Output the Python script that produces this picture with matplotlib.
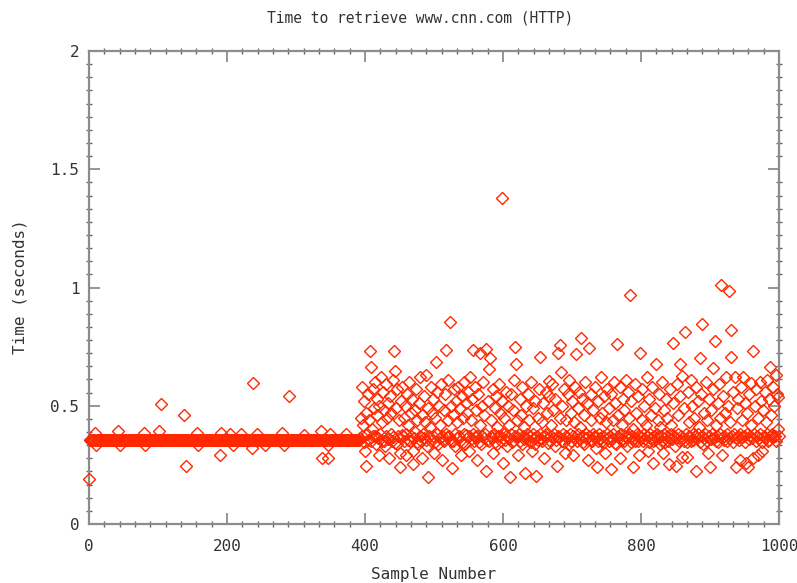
import numpy as np
import matplotlib
matplotlib.use("Agg")
import matplotlib.pyplot as plt
from matplotlib.ticker import AutoMinorLocator

# first 393 samples sit on a flat level, with a few stragglers
early_n = 393
early_level = 0.357
early_idx = [0, 8, 10, 42, 45, 79, 81, 102, 105, 138, 140, 156, 158, 190, 192,
             204, 209, 220, 236, 237, 243, 255, 280, 282, 290, 311, 336, 338,
             346, 347, 349, 373]
early_val = [0.19, 0.385, 0.335, 0.395, 0.335, 0.385, 0.335, 0.395, 0.507, 0.461,
             0.245, 0.385, 0.335, 0.292, 0.385, 0.38, 0.335, 0.38, 0.32, 0.595,
             0.38, 0.335, 0.385, 0.335, 0.541, 0.375, 0.394, 0.28, 0.28, 0.335,
             0.38, 0.38]

# samples 393..1000 (20 per row)
late_val = [
    0.362, 0.45, 0.37, 0.58, 0.42, 0.345, 0.52, 0.31, 0.47, 0.247, 0.38, 0.55, 0.355, 0.44, 0.73, 0.35, 0.665, 0.40, 0.57, 0.372,
    0.49, 0.37, 0.60, 0.34, 0.46, 0.53, 0.365, 0.29, 0.50, 0.38, 0.62, 0.35, 0.43, 0.56, 0.352, 0.48, 0.33, 0.59, 0.37, 0.45,
    0.358, 0.51, 0.28, 0.54, 0.38, 0.47, 0.35, 0.61, 0.368, 0.73, 0.647, 0.342, 0.49, 0.34, 0.57, 0.37, 0.44, 0.30, 0.242, 0.52,
    0.375, 0.58, 0.37, 0.45, 0.35, 0.50, 0.29, 0.38, 0.55, 0.355, 0.42, 0.60, 0.35, 0.47, 0.37, 0.53, 0.31, 0.252, 0.362, 0.48,
    0.39, 0.57, 0.348, 0.44, 0.34, 0.51, 0.37, 0.62, 0.35, 0.46, 0.28, 0.38, 0.54, 0.365, 0.43, 0.63, 0.357, 0.33, 0.20, 0.49,
    0.372, 0.41, 0.58, 0.35, 0.47, 0.37, 0.53, 0.30, 0.345, 0.45, 0.686, 0.38, 0.56, 0.34, 0.50, 0.362, 0.42, 0.59, 0.37, 0.27,
    0.355, 0.48, 0.35, 0.55, 0.38, 0.736, 0.368, 0.44, 0.61, 0.37, 0.853, 0.35, 0.50, 0.235, 0.352, 0.46, 0.57, 0.38, 0.33, 0.52,
    0.365, 0.43, 0.58, 0.37, 0.49, 0.35, 0.29, 0.54, 0.342, 0.45, 0.60, 0.38, 0.34, 0.51, 0.375, 0.47, 0.56, 0.37, 0.31, 0.62,
    0.358, 0.44, 0.53, 0.38, 0.736, 0.35, 0.58, 0.368, 0.48, 0.27, 0.37, 0.55, 0.345, 0.42, 0.722, 0.34, 0.50, 0.37, 0.60, 0.362,
    0.46, 0.38, 0.739, 0.225, 0.355, 0.52, 0.655, 0.35, 0.70, 0.37, 0.44, 0.365, 0.57, 0.30, 0.38, 0.49, 0.348, 0.54, 0.34, 0.41,
    0.37, 0.59, 0.372, 0.47, 0.35, 0.52, 1.378, 0.257, 0.38, 0.45, 0.355, 0.56, 0.37, 0.33, 0.50, 0.362, 0.42, 0.20, 0.38, 0.55,
    0.345, 0.48, 0.35, 0.61, 0.37, 0.75, 0.677, 0.368, 0.44, 0.29, 0.38, 0.53, 0.352, 0.46, 0.34, 0.58, 0.37, 0.41, 0.36, 0.217,
    0.50, 0.362, 0.38, 0.55, 0.35, 0.44, 0.37, 0.60, 0.345, 0.31, 0.49, 0.38, 0.365, 0.52, 0.34, 0.203, 0.37, 0.45, 0.355, 0.57,
    0.38, 0.708, 0.358, 0.43, 0.35, 0.51, 0.37, 0.28, 0.372, 0.56, 0.38, 0.47, 0.342, 0.54, 0.605, 0.35, 0.42, 0.37, 0.59, 0.362,
    0.48, 0.38, 0.33, 0.53, 0.355, 0.247, 0.37, 0.722, 0.368, 0.45, 0.757, 0.644, 0.35, 0.50, 0.38, 0.57, 0.345, 0.30, 0.44, 0.37,
    0.362, 0.55, 0.34, 0.61, 0.38, 0.47, 0.352, 0.52, 0.37, 0.29, 0.43, 0.365, 0.58, 0.719, 0.35, 0.49, 0.38, 0.56, 0.358, 0.41,
    0.788, 0.37, 0.53, 0.345, 0.46, 0.34, 0.60, 0.38, 0.362, 0.51, 0.27, 0.37, 0.743, 0.355, 0.44, 0.55, 0.35, 0.38, 0.48, 0.368,
    0.58, 0.37, 0.32, 0.242, 0.352, 0.52, 0.38, 0.45, 0.362, 0.62, 0.35, 0.47, 0.37, 0.54, 0.345, 0.30, 0.43, 0.38, 0.57, 0.365,
    0.49, 0.35, 0.37, 0.55, 0.231, 0.358, 0.44, 0.38, 0.60, 0.342, 0.51, 0.34, 0.76, 0.37, 0.46, 0.362, 0.28, 0.58, 0.38, 0.42,
    0.355, 0.53, 0.35, 0.48, 0.37, 0.61, 0.368, 0.33, 0.56, 0.38, 0.45, 0.968, 0.345, 0.52, 0.37, 0.40, 0.242, 0.362, 0.59, 0.35,
    0.47, 0.38, 0.352, 0.54, 0.29, 0.37, 0.724, 0.365, 0.44, 0.57, 0.35, 0.38, 0.50, 0.358, 0.42, 0.62, 0.37, 0.31, 0.345, 0.53,
    0.38, 0.46, 0.362, 0.58, 0.35, 0.257, 0.37, 0.49, 0.355, 0.677, 0.38, 0.44, 0.368, 0.55, 0.34, 0.41, 0.37, 0.60, 0.352, 0.30,
    0.48, 0.38, 0.345, 0.53, 0.37, 0.45, 0.35, 0.252, 0.362, 0.57, 0.38, 0.42, 0.358, 0.51, 0.767, 0.37, 0.33, 0.365, 0.245, 0.59,
    0.38, 0.46, 0.352, 0.54, 0.677, 0.37, 0.626, 0.285, 0.362, 0.49, 0.35, 0.813, 0.38, 0.285, 0.345, 0.56, 0.37, 0.43, 0.368, 0.61,
    0.35, 0.50, 0.38, 0.355, 0.45, 0.37, 0.58, 0.224, 0.362, 0.52, 0.38, 0.41, 0.70, 0.345, 0.55, 0.37, 0.846, 0.34, 0.47, 0.365,
    0.38, 0.60, 0.352, 0.44, 0.30, 0.37, 0.53, 0.242, 0.358, 0.48, 0.38, 0.57, 0.658, 0.362, 0.774, 0.35, 0.42, 0.37, 0.51, 0.345,
    0.59, 0.38, 0.45, 1.01, 0.365, 0.292, 0.54, 0.37, 0.355, 0.47, 0.62, 0.38, 0.35, 0.50, 0.985, 0.362, 0.43, 0.82, 0.708, 0.37,
    0.348, 0.56, 0.38, 0.623, 0.362, 0.242, 0.49, 0.37, 0.53, 0.355, 0.27, 0.38, 0.58, 0.368, 0.44, 0.623, 0.37, 0.51, 0.345, 0.26,
    0.38, 0.47, 0.242, 0.358, 0.55, 0.37, 0.42, 0.595, 0.362, 0.28, 0.731, 0.38, 0.50, 0.352, 0.57, 0.37, 0.29, 0.45, 0.365, 0.60,
    0.38, 0.52, 0.345, 0.31, 0.48, 0.37, 0.56, 0.362, 0.43, 0.38, 0.61, 0.35, 0.53, 0.355, 0.665, 0.37, 0.46, 0.38, 0.58, 0.368,
    0.50, 0.37, 0.63, 0.352, 0.55, 0.40, 0.538, 0.37,
]

x_ticks = [0, 200, 400, 600, 800, 1000]
y_ticks = [0, 0.5, 1, 1.5, 2]
y_tick_labels = ["0", "0.5", "1", "1.5", "2"]

early = np.full(early_n, early_level)
early[early_idx] = early_val
times = np.concatenate([early, np.array(late_val)])
samples = np.arange(len(times))

plt.rcParams['font.family'] = ['DejaVu Sans Mono']
red = '#ff2800'
grey = '#8c8c8c'
txt = '#333333'

fig = plt.figure(figsize=(7.97, 5.83), dpi=100)
ax = fig.add_axes([89/797, 1 - 524/583, 690/797, 473/583])

ax.plot(samples, times, linestyle='none', marker='D', markersize=6.5,
        markerfacecolor='none', markeredgecolor=red, markeredgewidth=1.0,
        clip_on=False, zorder=3)

ax.set_xlim(0, 1000)
ax.set_ylim(0, 2)
ax.set_xticks(x_ticks)
ax.set_yticks(y_ticks)
ax.set_yticklabels(y_tick_labels)
ax.xaxis.set_minor_locator(AutoMinorLocator(9))
ax.yaxis.set_minor_locator(AutoMinorLocator(9))

for s in ax.spines.values():
    s.set_color(grey)
    s.set_linewidth(1.6)

ax.tick_params(which='major', direction='in', length=8, width=1.3, color=grey,
               top=True, right=True, labelsize=11.5, labelcolor=txt)
ax.tick_params(axis='x', which='major', pad=11)
ax.tick_params(axis='y', which='major', pad=7)
ax.tick_params(which='minor', direction='inout', length=4, width=1.0, color='#666666',
               top=True, right=True)

fig.text(420/797, 1 - 18/583, "Time to retrieve www.cnn.com (HTTP)",
         ha='center', va='center', fontsize=10.5, color=txt)
fig.text(434/797, 1 - 575/583, "Sample Number",
         ha='center', va='center', fontsize=11.5, color=txt)
fig.text(20/797, 1 - 287/583, "Time (seconds)", rotation=90,
         ha='center', va='center', fontsize=11.5, color=txt)

fig.savefig("out.png", dpi=100)
